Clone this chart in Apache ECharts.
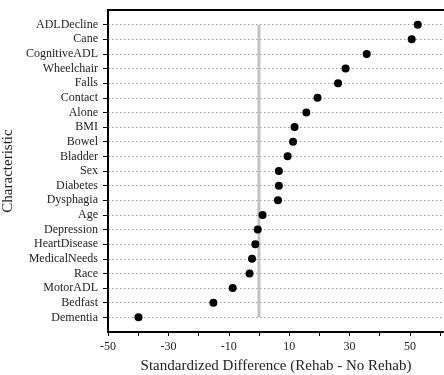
<!DOCTYPE html>
<html>
<head>
<meta charset="utf-8">
<script src="https://cdn.jsdelivr.net/npm/echarts@6/dist/echarts.min.js"></script>
<style>
  html, body { margin: 0; padding: 0; background: #fff; }
  #chart { width: 444px; height: 375px; }
</style>
</head>
<body>
<div id="chart"></div>
<script>
// Characteristics, top to bottom as in the figure
const characteristics = [
  'ADLDecline', 'Cane', 'CognitiveADL', 'Wheelchair', 'Falls', 'Contact', 'Alone',
  'BMI', 'Bowel', 'Bladder', 'Sex', 'Diabetes', 'Dysphagia', 'Age', 'Depression',
  'HeartDisease', 'MedicalNeeds', 'Race', 'MotorADL', 'Bedfast', 'Dementia'
];
// Standardized difference (Rehab - No Rehab)
const stdDiff = [
  52.6, 50.6, 35.7, 28.7, 26.2, 19.4, 15.7,
  11.8, 11.3, 9.5, 6.6, 6.6, 6.3, 1.2, -0.4,
  -1.2, -2.3, -3.1, -8.7, -15.1, -39.9
];
// x axis
const xMin = -50;
const xMax = 61.3;
const xStep = 10;
// zero reference line
const refValue = 0;

const font = 'Liberation Serif';

// category axis runs bottom -> top, padded with an empty slot on each end
const cats = [''].concat(characteristics.slice().reverse(), ['']);
const lastIdx = cats.length - 1;
const inner = (i) => i !== 0 && i !== lastIdx;

const points = characteristics.map((c, i) => [stdDiff[i], c]);
const refLine = [
  [refValue, characteristics[characteristics.length - 1]],
  [refValue, characteristics[0]]
];

const chart = echarts.init(document.getElementById('chart'));
chart.setOption({
  animation: false,
  backgroundColor: '#fff',
  grid: { left: 108, right: 0, top: 10, bottom: 43, outerBoundsMode: 'none', containLabel: false },
  xAxis: [
    {
      type: 'value',
      min: xMin,
      max: xMax,
      interval: xStep,
      name: 'Standardized Difference (Rehab - No Rehab)',
      nameLocation: 'middle',
      nameGap: 27,
      nameTextStyle: { fontFamily: font, fontSize: 15, color: '#222' },
      axisLine: { show: true, onZero: false, lineStyle: { color: '#000', width: 2 } },
      axisTick: { show: true, length: 4, lineStyle: { color: '#000' } },
      axisLabel: {
        fontFamily: font, fontSize: 12, color: '#222', margin: 9,
        formatter: (v) => ((v - xMin) % (2 * xStep) === 0 ? String(v) : '')
      },
      splitLine: { show: false }
    },
    {
      type: 'value',
      position: 'top',
      min: xMin,
      max: xMax,
      interval: xStep,
      axisLine: { show: true, onZero: false, lineStyle: { color: '#000', width: 2 } },
      axisTick: { show: false },
      axisLabel: { show: false },
      splitLine: { show: false }
    }
  ],
  yAxis: {
    type: 'category',
    data: cats,
    boundaryGap: false,
    name: 'Characteristic',
    nameLocation: 'middle',
    nameGap: 88,
    nameTextStyle: { fontFamily: font, fontSize: 15, color: '#222' },
    axisLine: { show: true, onZero: false, lineStyle: { color: '#000', width: 2 } },
    axisTick: { show: true, length: 5, interval: inner, lineStyle: { color: '#000' } },
    axisLabel: { fontFamily: font, fontSize: 12, color: '#222', margin: 10, interval: 0 },
    splitLine: {
      show: true,
      interval: inner,
      lineStyle: { color: '#9a9a9a', type: [1.5, 2.5], width: 1 }
    }
  },
  series: [
    {
      type: 'line',
      data: refLine,
      symbol: 'none',
      silent: true,
      lineStyle: { color: '#c2c2c2', width: 3 },
      z: 2
    },
    {
      type: 'scatter',
      data: points,
      symbol: 'circle',
      symbolSize: 8,
      itemStyle: { color: '#000', opacity: 1 },
      z: 3
    }
  ]
});
</script>
</body>
</html>
